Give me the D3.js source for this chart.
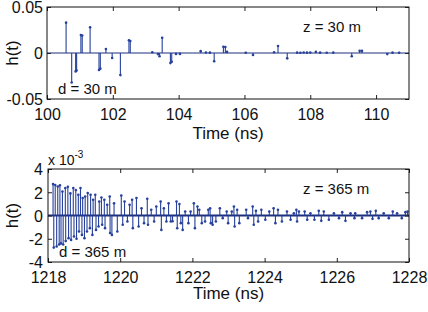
<!DOCTYPE html>
<html>
<head>
<meta charset="utf-8">
<script src="https://cdn.jsdelivr.net/npm/d3@7"></script>
<style>
  body { margin: 0; background: #fff; }
  text { font-family: "Liberation Sans", Arial, sans-serif; fill: #111; }
</style>
</head>
<body>
<div id="chart"></div>
<script>
// Impulse responses, two panels (stem plots)

// top panel: d = 30 m
var topTicksX = [100, 102, 104, 106, 108, 110];
var topTicksY = [-0.05, 0, 0.05];
var topTickLabelsY = ["-0.05", "0", "0.05"];
var topTime = [100.58, 100.75, 100.87, 100.90, 101.03, 101.07, 101.31, 101.58, 101.62, 101.79,
  101.98, 102.23, 102.49, 102.53, 103.2, 103.37, 103.42, 103.5, 103.75, 103.79,
  103.92, 104.04, 104.67, 104.83, 104.95, 105.08, 105.36, 105.42, 105.47, 106.04,
  106.26, 106.9, 107.02, 107.3, 107.6, 107.7, 107.8, 107.9, 108.0, 108.17,
  108.3, 108.5, 108.7, 109.26, 109.5, 109.57, 110.34, 110.5, 110.7];
var topH = [0.033, -0.032, -0.020, -0.019, 0.0195, 0.019, 0.028, -0.0185, -0.017, 0.0043,
  -0.0055, -0.024, 0.0138, 0.013, 0.0008, -0.0012, -0.0035, 0.0166, -0.011, -0.0095,
  -0.001, -0.001, 0.002, 0.0006, 0.0004, -0.009, 0.0068, 0.0065, 0.0012, 0.0003,
  -0.0022, 0.0008, 0.0076, -0.0058, 0.0004, 0.0003, 0.0005, 0.0004, 0.0006, 0.0012,
  0.0004, 0.0003, 0.0004, -0.0035, 0.0025, 0.0023, -0.0012, 0.0004, 0.0003];

// bottom panel: d = 365 m (values in units of 10^-3)
var botTicksX = [1218, 1220, 1222, 1224, 1226, 1228];
var botTicksY = [-4, -2, 0, 2, 4];
var botTime = [1218.14, 1218.16, 1218.20, 1218.24, 1218.27, 1218.31, 1218.33, 1218.36, 1218.40, 1218.42,
  1218.48, 1218.49, 1218.55, 1218.57, 1218.62, 1218.64, 1218.70, 1218.72, 1218.77, 1218.79,
  1218.84, 1218.86, 1218.90, 1218.94, 1218.96, 1219.01, 1219.03, 1219.08, 1219.10, 1219.16,
  1219.18, 1219.23, 1219.25, 1219.31, 1219.33, 1219.40, 1219.42, 1219.48, 1219.50, 1219.56,
  1219.58, 1219.64, 1219.71, 1219.72, 1219.77, 1219.83, 1219.92, 1220.03, 1220.07, 1220.12,
  1220.20, 1220.26, 1220.33, 1220.35, 1220.45, 1220.51, 1220.59, 1220.66, 1220.75, 1220.77,
  1220.86, 1220.94, 1221.00, 1221.12, 1221.14, 1221.21, 1221.28, 1221.34, 1221.40, 1221.45,
  1221.56, 1221.58, 1221.64, 1221.68, 1221.73, 1221.80, 1221.89, 1221.95, 1222.04, 1222.07,
  1222.14, 1222.19, 1222.26, 1222.35, 1222.44, 1222.49, 1222.51, 1222.56, 1222.65, 1222.76,
  1222.84, 1222.95, 1222.99, 1223.09, 1223.15, 1223.17, 1223.24, 1223.30, 1223.49, 1223.54,
  1223.67, 1223.70, 1223.76, 1223.82, 1223.91, 1224.02, 1224.13, 1224.25, 1224.30, 1224.37,
  1224.48, 1224.62, 1224.72, 1224.81, 1224.88, 1224.90, 1224.95, 1225.11, 1225.18, 1225.27,
  1225.38, 1225.50, 1225.57, 1225.64, 1225.78, 1225.92, 1226.06, 1226.15, 1226.24, 1226.38,
  1226.49, 1226.51, 1226.70, 1226.84, 1226.93, 1226.99, 1227.08, 1227.16, 1227.30, 1227.44,
  1227.55, 1227.67, 1227.80, 1227.90, 1227.96];
var botH = [2.7, -2.76, 2.63, -2.67, 2.5, -2.5, 2.6, -2.4, 2.07, -2.5,
  2.36, -2.2, 2.47, -1.95, 1.9, -2.1, 2.36, -1.8, 2.2, -2.0,
  1.78, -1.38, 2.36, -1.67, 1.5, -1.95, 1.64, -1.38, 1.93, -1.09,
  1.78, -1.67, 1.35, 1.78, -1.24, -0.95, 1.2, 1.55, -0.8, 1.35,
  -1.09, 0.92, 1.64, -1.5, -1.67, 1.06, -1.38, 1.72, -0.8, 1.2,
  -0.52, 0.92, 1.35, -1.09, 1.5, -0.95, 0.63, -0.66, 1.44, -0.8,
  0.49, -0.52, 0.78, 1.2, -1.24, 0.63, -0.52, 1.06, -0.52, -0.5,
  1.2, -1.1, 0.98, -0.66, -1.24, 0.35, -0.66, 0.35, 1.06, -1.09,
  0.78, 0.49, -0.66, -0.52, 0.49, 0.63, -0.66, -0.8, -0.52, 0.63,
  -0.23, 0.35, -0.66, 0.35, 0.78, -0.95, 0.49, -0.66, 0.49, -0.23,
  0.78, -0.8, 0.4, -0.52, 0.49, -0.37, 0.35, 0.63, -0.66, 0.49,
  -0.52, 0.35, -0.37, 0.2, 0.49, -0.52, 0.35, 0.35, -0.37, 0.2,
  -0.37, 0.4, -0.46, 0.35, -0.37, 0.2, -0.23, 0.29, -0.46, 0.2,
  -0.23, 0.2, -0.23, 0.29, 0.35, -0.29, 0.4, -0.23, 0.2, -0.23,
  0.35, 0.2, -0.23, 0.29, 0.35];

var width = 428;
var height = 312;
var stemColor = "#26409c";
var baseColor = "#1d2f7a";

var svg = d3.select("#chart")
  .append("svg")
  .attr("width", width)
  .attr("height", height);

svg.append("rect").attr("width", width).attr("height", height).attr("fill", "#fff");

// draw one stem panel
function drawPanel(p) {
  var x = d3.scaleLinear().domain(p.xDomain).range([p.left, p.right]);
  var y = d3.scaleLinear().domain(p.yDomain).range([p.bottom, p.top]);
  var g = svg.append("g");

  // zero baseline
  g.append("line")
    .attr("x1", p.left).attr("x2", p.right)
    .attr("y1", y(0)).attr("y2", y(0))
    .attr("stroke", baseColor)
    .attr("stroke-width", p.baseWidth);

  var pts = p.time.map(function(t, i) { return { t: t, v: p.vals[i] }; });

  g.selectAll(".stem").data(pts).enter()
    .append("line")
    .attr("class", "stem")
    .attr("x1", function(d) { return x(d.t); })
    .attr("x2", function(d) { return x(d.t); })
    .attr("y1", y(0))
    .attr("y2", function(d) { return y(d.v); })
    .attr("stroke", stemColor)
    .attr("stroke-width", 1.1);

  g.selectAll(".dot").data(pts).enter()
    .append("circle")
    .attr("cx", function(d) { return x(d.t); })
    .attr("cy", function(d) { return y(d.v); })
    .attr("r", 1.3)
    .attr("fill", stemColor);

  // inward ticks, all four sides (matlab box)
  var tl = 4;
  var xAxB = d3.axisBottom(x).tickValues(p.xTicks).tickSize(-tl).tickFormat(d3.format("d")).tickPadding(p.xPad);
  var xAxT = d3.axisTop(x).tickValues(p.xTicks).tickSize(-tl).tickFormat("");
  var yAxL = d3.axisLeft(y).tickValues(p.yTicks).tickSize(-tl).tickPadding(p.yPad)
    .tickFormat(function(d, i) { return p.yLabels ? p.yLabels[i] : d; });
  var yAxR = d3.axisRight(y).tickValues(p.yTicks).tickSize(-tl).tickFormat("");

  var gb = g.append("g").attr("transform", "translate(0," + p.bottom + ")").call(xAxB);
  var gt = g.append("g").attr("transform", "translate(0," + p.top + ")").call(xAxT);
  var gl = g.append("g").attr("transform", "translate(" + p.left + ",0)").call(yAxL);
  var gr = g.append("g").attr("transform", "translate(" + p.right + ",0)").call(yAxR);
  [gb, gt, gl, gr].forEach(function(a) {
    a.select(".domain").remove();
    a.selectAll("line").attr("stroke", "#222");
    a.selectAll("text").style("font-size", "16px").attr("fill", "#111");
  });
  gl.selectAll("text").attr("dy", "0.36em");

  g.append("rect")
    .attr("x", p.left).attr("y", p.top)
    .attr("width", p.right - p.left).attr("height", p.bottom - p.top)
    .attr("fill", "none").attr("stroke", "#111").attr("stroke-width", 1);

  // labels
  g.append("text")
    .attr("x", (p.left + p.right) / 2).attr("y", p.bottom + p.titleGap)
    .attr("text-anchor", "middle").style("font-size", "17px")
    .text("Time (ns)");
  g.append("text")
    .attr("transform", "translate(18," + ((p.top + p.bottom) / 2) + ")rotate(-90)")
    .attr("text-anchor", "middle").style("font-size", "17px")
    .text("h(t)");
  g.append("text")
    .attr("x", p.left + 11).attr("y", p.bottom - 5)
    .style("font-size", "15px").text(p.dText);
  g.append("text")
    .attr("x", 303).attr("y", p.top + 25)
    .style("font-size", "15px").text(p.zText);
}

drawPanel({
  left: 47, right: 409, top: 7, bottom: 99,
  xDomain: [100, 111], yDomain: [-0.05, 0.05],
  xTicks: topTicksX, yTicks: topTicksY, yLabels: topTickLabelsY,
  time: topTime, vals: topH, baseWidth: 1,
  xPad: 10, yPad: 4, titleGap: 40,
  dText: "d = 30 m", zText: "z = 30 m"
});

drawPanel({
  left: 48, right: 409, top: 169, bottom: 262,
  xDomain: [1218, 1228], yDomain: [-4, 4],
  xTicks: botTicksX, yTicks: botTicksY,
  time: botTime, vals: botH, baseWidth: 2,
  xPad: 10, yPad: 5, titleGap: 37,
  dText: "d = 365 m", zText: "z = 365 m"
});

// exponent label of bottom y axis
var expo = svg.append("text").attr("x", 48).attr("y", 165).style("font-size", "14px");
expo.append("tspan").text("x 10");
expo.append("tspan").attr("dy", -7).style("font-size", "10px").text("-3");
</script>
</body>
</html>
